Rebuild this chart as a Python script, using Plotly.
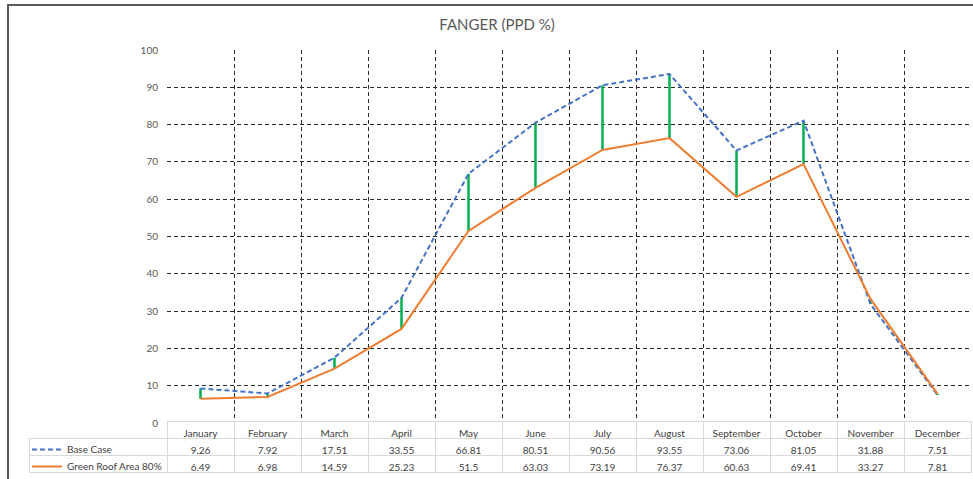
import plotly.graph_objects as go

months = ["January", "February", "March", "April", "May", "June", "July",
          "August", "September", "October", "November", "December"]
base_case = [9.26, 7.92, 17.51, 33.55, 66.81, 80.51, 90.56, 93.55, 73.06, 81.05, 31.88, 7.51]
green_roof = [6.49, 6.98, 14.59, 25.23, 51.5, 63.03, 73.19, 76.37, 60.63, 69.41, 33.27, 7.81]
series_names = ["Base Case", "Green Roof Area 80%"]
y_ticks = list(range(0, 101, 10))

W, H = 973, 479
FONT = "Lato, 'Open Sans', sans-serif"
TXT = "#404040"
BLUE = "#4472C4"
ORANGE = "#ED7D31"
GREEN = "#00B050"

xs = list(range(len(months)))

# margins (pixels)
ml, mr, mt, mb = 29, 2, 50, 5
plot_w = W - ml - mr
plot_h = H - mt - mb
axis_left_px = 167
axis_bottom_px = 423
table_top_px = 421
row_h = 17
x_dom0 = (axis_left_px - ml) / plot_w
y_dom0 = (H - mb - axis_bottom_px) / plot_h


def py(px):
    return (H - mb - px) / plot_h


def pxx(px):
    return (px - ml) / plot_w


fig = go.Figure()

# high-low lines
hx, hy = [], []
for x, a, b in zip(xs, base_case, green_roof):
    hx += [x, x, None]
    hy += [a, b, None]
fig.add_trace(go.Scatter(x=hx, y=hy, mode="lines", line=dict(color=GREEN, width=2.5),
                         showlegend=False, hoverinfo="skip"))

# data table
cell_values = [["", ""]] + [[str(a), str(b)] for a, b in zip(base_case, green_roof)]
header_values = [""] + months
n = len(months)
grid = "#D9D9D9"
fig.add_trace(go.Table(
    domain=dict(x=[0, 1], y=[0, py(table_top_px)]),
    columnwidth=[axis_left_px - ml] + [(plot_w - (axis_left_px - ml)) / n] * n,
    header=dict(values=header_values, height=row_h,
                fill=dict(color=["rgba(0,0,0,0)"] + ["white"] * n),
                line=dict(color=["rgba(0,0,0,0)"] + [grid] * n, width=1),
                font=dict(family=FONT, size=10, color=TXT), align="center"),
    cells=dict(values=cell_values, height=row_h,
               fill=dict(color=["rgba(0,0,0,0)"] + ["white"] * n),
               line=dict(color=grid, width=1),
               font=dict(family=FONT, size=10, color=TXT),
               align=["left"] + ["center"] * n),
))

fig.add_trace(go.Scatter(x=xs, y=base_case, mode="lines", name=series_names[0],
                         line=dict(color=BLUE, width=2, dash="5px,3px"),
                         showlegend=True, legend="legend"))
fig.add_trace(go.Scatter(x=xs, y=green_roof, mode="lines", name=series_names[1],
                         line=dict(color=ORANGE, width=2),
                         showlegend=True, legend="legend2"))

leg_common = dict(xanchor="left", yanchor="middle", bgcolor="rgba(0,0,0,0)",
                  borderwidth=0, font=dict(family=FONT, size=10, color=TXT),
                  itemwidth=30)

fig.update_layout(
    width=W, height=H,
    margin=dict(l=ml, r=mr, t=mt, b=mb, autoexpand=False),
    paper_bgcolor="white", plot_bgcolor="white",
    font=dict(family=FONT, color=TXT),
    title=dict(text="FANGER (PPD %)", x=497 / W, xanchor="center", y=1 - 25 / H,
               yanchor="middle", font=dict(family=FONT, size=15, color="#595959")),
    legend=dict(x=pxx(27), y=py(axis_bottom_px + 1.5 * row_h + 1), **leg_common),
    legend2=dict(x=pxx(27), y=py(axis_bottom_px + 2.5 * row_h + 1), **leg_common),
    xaxis=dict(domain=[x_dom0, 1], range=[-0.5, n - 0.5],
               tickvals=[i + 0.5 for i in xs], showticklabels=False, ticks="",
               showgrid=True, gridcolor="#2b2b2b", gridwidth=1, griddash="4px,3px",
               zeroline=False, showline=False, fixedrange=True),
    yaxis=dict(domain=[y_dom0, 1], range=[0, 100], tickvals=y_ticks,
               showgrid=True, gridcolor="#2b2b2b", gridwidth=1, griddash="4px,3px",
               zeroline=True, zerolinecolor=grid, zerolinewidth=1,
               tickfont=dict(family=FONT, size=10, color="#595959"),
               ticklabelstandoff=8, showline=False, fixedrange=True),
    shapes=[dict(type="rect", xref="paper", yref="paper",
                 x0=pxx(8), x1=1.2, y0=-0.2, y1=py(5),
                 line=dict(color="#595959", width=2), fillcolor="rgba(0,0,0,0)",
                 layer="above")],
)

fig.write_html("out.html")
